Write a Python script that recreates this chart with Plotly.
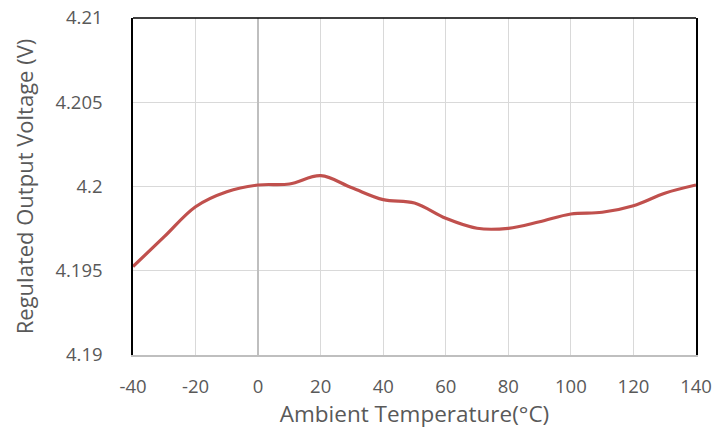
import plotly.graph_objects as go

temperature = [-40, -30, -20, -10, 0, 10, 20, 30, 40, 50, 60, 70, 80, 90, 100, 110, 120, 130, 140]
voltage = [4.19525, 4.19702, 4.19880, 4.19969, 4.20009, 4.20015, 4.20064, 4.19992, 4.19922,
           4.19902, 4.19811, 4.19752, 4.19752, 4.19791, 4.19837, 4.19847, 4.19886, 4.19960, 4.20009]

x_ticks = [-40, -20, 0, 20, 40, 60, 80, 100, 120, 140]
x_tick_text = ["-40", "-20", "0", "20", "40", "60", "80", "100", "120", "140"]
y_ticks = [4.19, 4.195, 4.2, 4.205, 4.21]
y_tick_text = ["4.19", "4.195", "4.2", "4.205", "4.21"]

fig = go.Figure()
fig.add_trace(go.Scatter(
    x=temperature, y=voltage, mode="lines",
    line=dict(color="#C0504D", width=3.2, shape="spline", smoothing=1.0),
    showlegend=False,
))

font_family = "Open Sans, Liberation Sans, sans-serif"
fig.update_layout(
    width=717, height=430,
    margin=dict(l=133, r=21, t=18, b=75),
    paper_bgcolor="white", plot_bgcolor="white",
    font=dict(family=font_family, color="#595959", size=19),
    xaxis=dict(
        range=[-40, 140], tickvals=x_ticks, ticktext=x_tick_text,
        showgrid=True, gridcolor="#D9D9D9", gridwidth=1.3,
        zeroline=True, zerolinecolor="#BFBFBF", zerolinewidth=1.5,
        showline=True, linecolor="#BFBFBF", linewidth=1.5,
        ticks="", ticklabelstandoff=14, automargin=False,
        tickfont=dict(size=18.5, color="#595959"),
        title=dict(text="Ambient Temperature(°C)", font=dict(size=22.5, color="#595959"), standoff=0),
    ),
    yaxis=dict(
        range=[4.19, 4.21], tickvals=y_ticks, ticktext=y_tick_text,
        showgrid=True, gridcolor="#D9D9D9", gridwidth=1.3,
        zeroline=False,
        showline=True, linecolor="black", linewidth=1.5, mirror=True,
        ticks="", ticklabelstandoff=25, automargin=False,
        tickfont=dict(size=18.5, color="#595959"),
        title=dict(text="Regulated Output Voltage (V)", font=dict(size=22, color="#595959"), standoff=16),
    ),
    shapes=[dict(type="line", xref="paper", yref="paper", x0=0, x1=1, y0=1, y1=1,
                 line=dict(color="black", width=1.5))],
)

fig.write_html("out.html", config={"displayModeBar": False},
               post_script="document.body.style.margin='0';document.body.style.overflow='hidden';")
